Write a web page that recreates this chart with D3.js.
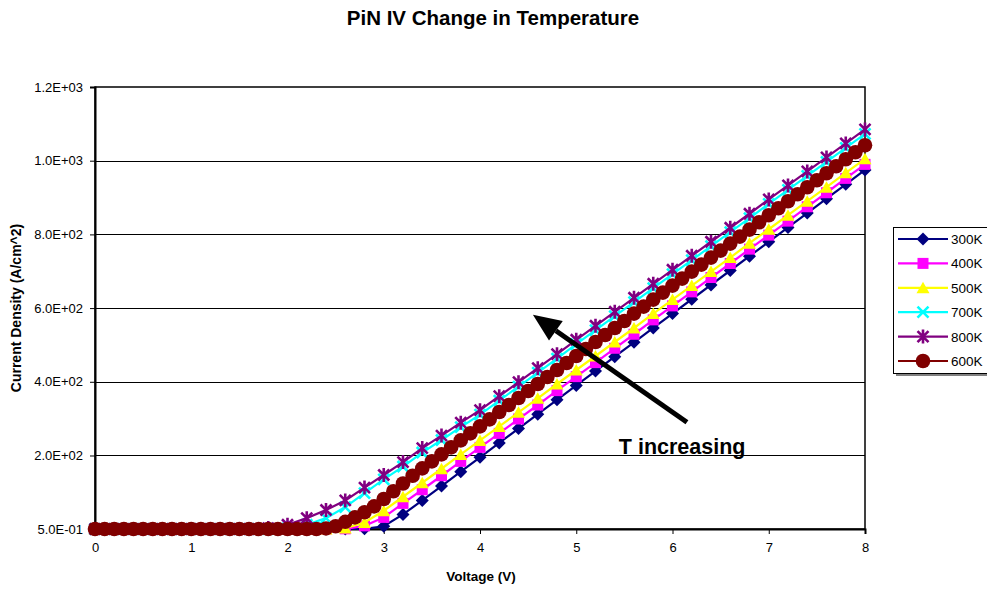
<!DOCTYPE html>
<html><head><meta charset="utf-8">
<script src="https://cdn.jsdelivr.net/npm/d3@7"></script>
<style>body{margin:0;background:#fff;}svg{display:block;font-family:"Liberation Sans",Arial,sans-serif;}</style>
</head><body>
<svg id="c" width="987" height="590"></svg>
<script>
// ---- data ----
const voltage = [0,0.2,0.4,0.6,0.8,1.0,1.2,1.4,1.6,1.8,2.0,2.2,2.4,2.6,2.8,3.0,3.2,3.4,3.6,3.8,4.0,4.2,4.4,4.6,4.8,5.0,5.2,5.4,5.6,5.8,6.0,6.2,6.4,6.6,6.8,7.0,7.2,7.4,7.6,7.8,8.0];
const voltageFine = [0,0.1,0.2,0.3,0.4,0.5,0.6,0.7,0.8,0.9,1.0,1.1,1.2,1.3,1.4,1.5,1.6,1.7,1.8,1.9,2.0,2.1,2.2,2.3,2.4,2.5,2.6,2.7,2.8,2.9,3.0,3.1,3.2,3.3,3.4,3.5,3.6,3.7,3.8,3.9,4.0,4.1,4.2,4.3,4.4,4.5,4.6,4.7,4.8,4.9,5.0,5.1,5.2,5.3,5.4,5.5,5.6,5.7,5.8,5.9,6.0,6.1,6.2,6.3,6.4,6.5,6.6,6.7,6.8,6.9,7.0,7.1,7.2,7.3,7.4,7.5,7.6,7.7,7.8,7.9,8.0];
const j300 = [0.5,0.5,0.5,0.5,0.5,0.5,0.5,0.5,0.5,0.5,0.5,0.5,0.5,0.5,1,8,40,78,117,156,195,234,273,312,351,390,429,468,507,546,585,624,663,702,741,780,819,858,897,936,975];
const j400 = [0.5,0.5,0.5,0.5,0.5,0.5,0.5,0.5,0.5,0.5,0.5,0.5,0.5,1,9,32,70,107,145,184,222,260,299,337,376,414,452,491,529,568,606,644,683,721,760,798,836,875,913,952,990];
const j500 = [0.5,0.5,0.5,0.5,0.5,0.5,0.5,0.5,0.5,0.5,0.5,0.5,0.5,3,18,50,88,126,164,203,241,279,317,355,394,432,470,508,546,585,623,661,699,737,776,814,852,890,928,967,1005];
const j700 = [0.5,0.5,0.5,0.5,0.5,0.5,0.5,0.5,0.5,0.5,2,12,30,60,98,135,170,208,242,277,311,349,387,425,463,502,540,578,616,654,692,730,768,806,844,883,921,959,997,1035,1073];
const j800 = [0.5,0.5,0.5,0.5,0.5,0.5,0.5,0.5,0.5,3,12,30,52,78,113,147,182,220,254,289,323,361,399,437,475,514,552,590,628,666,704,742,780,818,856,895,933,971,1009,1047,1085];
const j600 = [0.5,0.5,0.5,0.5,0.5,0.5,0.5,0.5,0.5,0.5,0.5,0.5,0.5,0.5,0.5,0.5,0.5,0.5,0.5,0.5,0.5,0.5,0.5,0.5,2,8,20,32,46,62,82,103,124,145,165,184,203,222,241,260,279,298,318,337,356,375,394,413,432,451,470,489,508,527,546,565,585,604,623,642,661,680,699,718,737,756,775,794,813,833,852,871,890,909,928,947,966,985,1004,1023,1042];
const seriesNames = ["300K","400K","500K","700K","800K","600K"];
const seriesColors = ["#000080","#FF00FF","#FFFF00","#00FFFF","#800080","#800000"];
const seriesMarkers = ["diamond","square","triangle","x","star","circle"];
const yTickValues = [0.5,200,400,600,800,1000,1200];
const yTickLabels = ["5.0E-01","2.0E+02","4.0E+02","6.0E+02","8.0E+02","1.0E+03","1.2E+03"];
const xTickValues = [0,1,2,3,4,5,6,7,8];

const seriesData = [
  {x: voltage, y: j300},
  {x: voltage, y: j400},
  {x: voltage, y: j500},
  {x: voltage, y: j700},
  {x: voltage, y: j800},
  {x: voltageFine, y: j600}
];

// ---- layout ----
const svg = d3.select("#c");
const L = 95, R = 865, T = 87, B = 529;
const x = d3.scaleLinear().domain([0,8]).range([L,R]);
const y = d3.scaleLinear().domain([0.5,1200]).range([B,T]);
const FF = "Liberation Sans, Arial, sans-serif";

// title
svg.append("text").attr("x",493).attr("y",25).attr("text-anchor","middle")
  .attr("font-size","20.5px").attr("font-weight","bold").text("PiN IV Change in Temperature");

// gridlines
svg.append("g").selectAll("line").data(yTickValues.slice(1,-1)).join("line")
  .attr("x1",L).attr("x2",R).attr("y1",d=>Math.round(y(d))+0.5).attr("y2",d=>Math.round(y(d))+0.5)
  .attr("stroke","#000").attr("stroke-width",1);

// frame
svg.append("rect").attr("x",L).attr("y",T).attr("width",R-L).attr("height",B-T)
  .attr("fill","none").attr("stroke","#000").attr("stroke-width",1.5);

// axes
const yAxis = d3.axisLeft(y).tickValues(yTickValues).tickFormat((d,i)=>yTickLabels[i]).tickSize(5).tickPadding(7);
const gy = svg.append("g").attr("transform",`translate(${L},0)`).call(yAxis);
gy.select(".domain").attr("stroke-width",2);
gy.selectAll("text").attr("font-size","13px").attr("font-family",FF).attr("fill","#000");

const xAxis = d3.axisBottom(x).tickValues(xTickValues).tickFormat(d3.format("d")).tickSize(5).tickPadding(9);
const gx = svg.append("g").attr("transform",`translate(0,${B})`).call(xAxis);
gx.select(".domain").attr("stroke-width",2);
gx.selectAll("text").attr("font-size","13px").attr("font-family",FF).attr("fill","#000");

// axis titles
svg.append("text").attr("x",481).attr("y",581).attr("text-anchor","middle")
  .attr("font-size","13.5px").attr("font-weight","bold").text("Voltage (V)");
svg.append("text").attr("transform",`translate(21,${(T+B)/2}) rotate(-90)`).attr("text-anchor","middle")
  .attr("font-size","14px").attr("font-weight","bold").text("Current Density (A/cm^2)");

// markers
function drawMarker(g, type, color, cx, cy) {
  if (type === "diamond") {
    const h = 6.5;
    g.append("path").attr("d",`M${cx},${cy-h}L${cx+h},${cy}L${cx},${cy+h}L${cx-h},${cy}Z`).attr("fill",color);
  } else if (type === "square") {
    g.append("rect").attr("x",cx-5.5).attr("y",cy-5.5).attr("width",11).attr("height",11).attr("fill",color);
  } else if (type === "triangle") {
    const h = 6;
    g.append("path").attr("d",`M${cx},${cy-h}L${cx+h+0.5},${cy+h-0.5}L${cx-h-0.5},${cy+h-0.5}Z`).attr("fill",color);
  } else if (type === "x") {
    const h = 5.5;
    g.append("path").attr("d",`M${cx-h},${cy-h}L${cx+h},${cy+h}M${cx+h},${cy-h}L${cx-h},${cy+h}`)
      .attr("stroke",color).attr("stroke-width",2.6).attr("fill","none");
  } else if (type === "star") {
    const h = 5.5;
    g.append("path").attr("d",`M${cx-h},${cy-h}L${cx+h},${cy+h}M${cx+h},${cy-h}L${cx-h},${cy+h}M${cx},${cy-h-1.5}L${cx},${cy+h+1.5}`)
      .attr("stroke",color).attr("stroke-width",2.6).attr("fill","none");
  } else if (type === "circle") {
    g.append("circle").attr("cx",cx).attr("cy",cy).attr("r",7.3).attr("fill",color);
  }
}

// series
const line = d3.line().x(d=>x(d[0])).y(d=>y(d[1]));
const plot = svg.append("g");
seriesData.forEach((s,k) => {
  const pts = s.x.map((v,i)=>[v, s.y[i]]);
  const g = plot.append("g");
  g.append("path").datum(pts).attr("d",line).attr("fill","none")
    .attr("stroke",seriesColors[k]).attr("stroke-width",2.2);
  pts.forEach(p => drawMarker(g, seriesMarkers[k], seriesColors[k], x(p[0]), y(p[1])));
});

// annotation arrow
const ax1 = x(6.15), ay1 = y(290), ax2 = x(4.55), ay2 = y(582);
const ang = Math.atan2(ay2-ay1, ax2-ax1);
const headLen = 28, headW = 12;
const bx = ax2 - headLen*Math.cos(ang), by = ay2 - headLen*Math.sin(ang);
svg.append("line").attr("x1",ax1).attr("y1",ay1).attr("x2",bx).attr("y2",by)
  .attr("stroke","#000").attr("stroke-width",5);
svg.append("path").attr("d",
  `M${ax2},${ay2}L${bx + headW*Math.sin(ang)},${by - headW*Math.cos(ang)}L${bx - headW*Math.sin(ang)},${by + headW*Math.cos(ang)}Z`)
  .attr("fill","#000");
svg.append("text").attr("x",x(6.1)).attr("y",y(203)).attr("text-anchor","middle")
  .attr("font-size","21.5px").attr("font-weight","bold").text("T increasing");

// legend
const lg = svg.append("g");
lg.append("rect").attr("x",896).attr("y",230).attr("width",100).attr("height",146).attr("fill","#808080");
lg.append("rect").attr("x",893.5).attr("y",227.5).attr("width",100).attr("height",146).attr("fill","#fff").attr("stroke","#000").attr("stroke-width",1);
seriesNames.forEach((n,k) => {
  const ly = 239 + k*24.4;
  lg.append("line").attr("x1",898).attr("x2",948).attr("y1",ly).attr("y2",ly).attr("stroke",seriesColors[k]).attr("stroke-width",2.2);
  drawMarker(lg, seriesMarkers[k], seriesColors[k], 923, ly);
  lg.append("text").attr("x",951).attr("y",ly+5).attr("font-size","13.5px").text(n);
});
</script>
</body></html>
